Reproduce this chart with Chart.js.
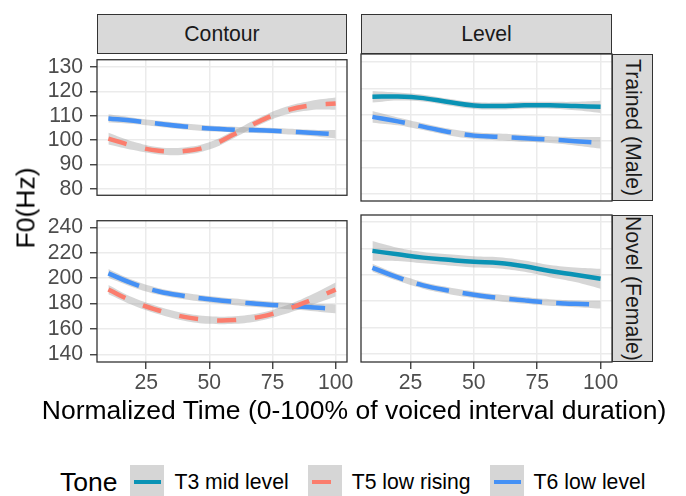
<!DOCTYPE html>
<html>
<head>
<meta charset="utf-8">
<script src="https://cdn.jsdelivr.net/npm/chart.js@4.4.1/dist/chart.umd.min.js"></script>
<style>
  body { margin: 0; background: #fff; font-family: "Liberation Sans", Arial, sans-serif; }
  #wrap { position: relative; width: 686px; height: 496px; overflow: hidden; }
  canvas { position: absolute; }
  .strip { position: absolute; box-sizing: border-box; background: #d9d9d9; border: 1.3px solid #333;
           color: #1a1a1a; font-size: 21.2px; display: flex; align-items: center; justify-content: center; }
  .strip.v { writing-mode: vertical-rl; }
  .title { position: absolute; color: #000; font-size: 26.5px; white-space: nowrap; }
  #legend { position: absolute; left: 60px; top: 465px; height: 34px; display: flex; align-items: center; }
  #legend .lt { font-size: 26.5px; margin-right: 13px; }
  #legend .key { width: 34px; height: 34px; background: #d6d6d6; position: relative; margin-right: 10px; flex: none; }
  #legend .key i { position: absolute; left: 4px; width: 27px; top: 14.6px; height: 4.7px; }
  #legend .lab { font-size: 21.2px; color: #000; margin-right: 19px; white-space: nowrap; }
</style>
</head>
<body>
<div id="wrap">
  <canvas id="pTL" width="355" height="175" style="left:6px;top:40px"></canvas>
  <canvas id="pTR" width="279" height="175" style="left:347px;top:40px"></canvas>
  <canvas id="pBL" width="355" height="211" style="left:6px;top:201px"></canvas>
  <canvas id="pBR" width="279" height="211" style="left:347px;top:201px"></canvas>

  <div class="strip" style="left:97px;top:14px;width:250px;height:40px">Contour</div>
  <div class="strip" style="left:361px;top:14px;width:251px;height:40px">Level</div>
  <div class="strip v" style="left:612px;top:54px;width:41px;height:147px">Trained (Male)</div>
  <div class="strip v" style="left:612px;top:215px;width:41px;height:147px">Novel (Female)</div>

  <div class="title" style="left:26px;top:208px;transform:translate(-50%,-50%) rotate(-90deg)">F0(Hz)</div>
  <div class="title" style="left:354px;top:410px;transform:translate(-50%,-50%)">Normalized Time (0-100% of voiced interval duration)</div>

  <div id="legend"></div>
</div>
<script>
// x positions of the smoothed curves
const xs = [10, 20, 30, 40, 50, 60, 70, 80, 90, 100]
const xTicks = [25, 50, 75, 100]
const yTicksMale = [80, 90, 100, 110, 120, 130]
const yTicksFemale = [140, 160, 180, 200, 220, 240]

const tones = ['T3 mid level', 'T5 low rising', 'T6 low level']
const toneColors = ['#0a93b5', '#fb7d6d', '#4591f5']
const toneDash = [[], [19, 19], [33, 14]]

// Contour / Trained (Male)
const contourMaleT5 = [100.6, 97.6, 95.6, 95.5, 97.6, 102.5, 107.8, 112.0, 114.2, 115.0]
const contourMaleT5Se = [2.4, 1.7, 1.5, 1.5, 1.5, 1.5, 1.5, 1.6, 1.9, 2.5]
const contourMaleT6 = [108.9, 107.9, 106.7, 105.6, 104.8, 104.3, 104.0, 103.6, 103.0, 102.4]
const contourMaleT6Se = [1.7, 1.3, 1.2, 1.2, 1.2, 1.2, 1.2, 1.2, 1.3, 1.7]

// Level / Trained (Male)
const levelMaleT3 = [116.8, 116.9, 116.3, 114.8, 113.5, 113.3, 113.6, 113.6, 113.3, 113.0]
const levelMaleT3Se = [2.2, 1.5, 1.3, 1.3, 1.3, 1.3, 1.3, 1.3, 1.6, 2.3]
const levelMaleT6 = [109.2, 107.5, 105.5, 103.5, 102.1, 101.6, 101.1, 100.6, 100.0, 99.4]
const levelMaleT6Se = [2.2, 1.5, 1.3, 1.3, 1.3, 1.3, 1.3, 1.3, 1.6, 2.2]

// Contour / Novel (Female)
const contourFemaleT5 = [191.0, 181.5, 174.5, 169.5, 167.0, 167.0, 169.5, 175.0, 182.5, 191.0]
const contourFemaleT5Se = [3.6, 3.0, 3.0, 3.0, 3.0, 3.0, 3.0, 3.2, 4.0, 5.5]
const contourFemaleT6 = [203.8, 195.5, 189.5, 186.0, 183.4, 181.3, 179.6, 178.2, 177.0, 175.8]
const contourFemaleT6Se = [3.5, 2.8, 2.6, 2.6, 2.6, 2.6, 2.6, 2.6, 2.8, 3.5]

// Level / Novel (Female)
const levelFemaleT3 = [218.1, 215.5, 213.0, 211.3, 209.8, 209.0, 206.5, 202.8, 200.0, 197.0]
const levelFemaleT3Se = [7.5, 5.0, 4.3, 4.2, 4.2, 4.2, 4.3, 4.6, 5.5, 7.5]
const levelFemaleT6 = [205.3, 198.0, 192.0, 188.0, 184.9, 182.5, 180.6, 179.0, 178.0, 177.4]
const levelFemaleT6Se = [3.0, 2.6, 2.5, 2.5, 2.5, 2.5, 2.5, 2.5, 2.6, 3.0]

const fontFam = '"Liberation Sans", Arial, sans-serif'

// marco do painel (panel.border do ggplot)
const panelFrame = {
  id: 'panelFrame',
  afterDraw(chart) {
    const a = chart.chartArea
    const ctx = chart.ctx
    ctx.save()
    ctx.strokeStyle = '#333333'
    ctx.lineWidth = 1.3
    ctx.strokeRect(a.left, a.top, a.right - a.left, a.bottom - a.top)
    ctx.restore()
  }
}

function pts(vals, off, sign) {
  return xs.map((x, i) => ({ x: x, y: vals[i] + (off ? sign * off[i] : 0) }))
}

function montaSeries(series) {
  const ribbons = []
  const lines = []
  series.forEach(s => {
    ribbons.push({ data: pts(s.y, s.se, 1), borderWidth: 0, pointRadius: 0, tension: 0.4,
      fill: '+1', backgroundColor: 'rgba(153,153,153,0.4)', order: 2 })
    ribbons.push({ data: pts(s.y, s.se, -1), borderWidth: 0, pointRadius: 0, tension: 0.4,
      fill: false, order: 2 })
    lines.push({ data: pts(s.y), borderColor: toneColors[s.tone], borderWidth: 4.5,
      borderDash: toneDash[s.tone], borderCapStyle: 'butt', pointRadius: 0, tension: 0.4,
      fill: false, order: 1 })
  })
  return ribbons.concat(lines)
}

function criaPainel(id, series, yMin, yMax, yTicks, showY, showX) {
  const grid = { color: '#ebebeb', lineWidth: 1.5, tickColor: '#333333', tickWidth: 1.3, tickLength: 7 }
  return new Chart(document.getElementById(id), {
    type: 'line',
    data: { datasets: montaSeries(series) },
    options: {
      responsive: false,
      animation: false,
      devicePixelRatio: 1,
      layout: { padding: 14 },
      plugins: { legend: { display: false }, tooltip: { enabled: false } },
      scales: {
        x: {
          type: 'linear', min: 5.5, max: 104.5,
          afterBuildTicks: s => { s.ticks = xTicks.map(v => ({ value: v })) },
          afterFit: s => { s.height = showX ? 36 : 0 },
          grid: Object.assign({}, grid, { drawTicks: showX }),
          border: { display: false },
          ticks: { display: showX, autoSkip: false, color: '#4d4d4d', padding: 1, maxRotation: 0,
            font: { family: fontFam, size: 21.2 } }
        },
        y: {
          type: 'linear', min: yMin, max: yMax,
          afterBuildTicks: s => { s.ticks = yTicks.map(v => ({ value: v })) },
          afterFit: s => { s.width = showY ? 77 : 0 },
          grid: Object.assign({}, grid, { drawTicks: showY }),
          border: { display: false },
          ticks: { display: showY, autoSkip: false, color: '#4d4d4d', padding: 7,
            font: { family: fontFam, size: 21.2 } }
        }
      }
    },
    plugins: [panelFrame]
  })
}

criaPainel('pTL', [
  { tone: 1, y: contourMaleT5, se: contourMaleT5Se },
  { tone: 2, y: contourMaleT6, se: contourMaleT6Se }
], 77.35, 133.0, yTicksMale, true, false)

criaPainel('pTR', [
  { tone: 0, y: levelMaleT3, se: levelMaleT3Se },
  { tone: 2, y: levelMaleT6, se: levelMaleT6Se }
], 77.35, 133.0, yTicksMale, false, false)

criaPainel('pBL', [
  { tone: 1, y: contourFemaleT5, se: contourFemaleT5Se },
  { tone: 2, y: contourFemaleT6, se: contourFemaleT6Se }
], 133.9, 245.3, yTicksFemale, true, true)

criaPainel('pBR', [
  { tone: 0, y: levelFemaleT3, se: levelFemaleT3Se },
  { tone: 2, y: levelFemaleT6, se: levelFemaleT6Se }
], 133.9, 245.3, yTicksFemale, false, true)

// legenda: a chave mostra o começo do tracejado de cada tom
const legenda = document.getElementById('legend')
legenda.innerHTML = '<span class="lt">Tone</span>'
tones.forEach((t, i) => {
  const on = toneDash[i].length ? toneDash[i][0] : 27
  legenda.innerHTML += `<span class="key"><i style="background:linear-gradient(to right, ${toneColors[i]} ${on}px, transparent ${on}px)"></i></span><span class="lab">${t}</span>`
})
</script>
</body>
</html>
